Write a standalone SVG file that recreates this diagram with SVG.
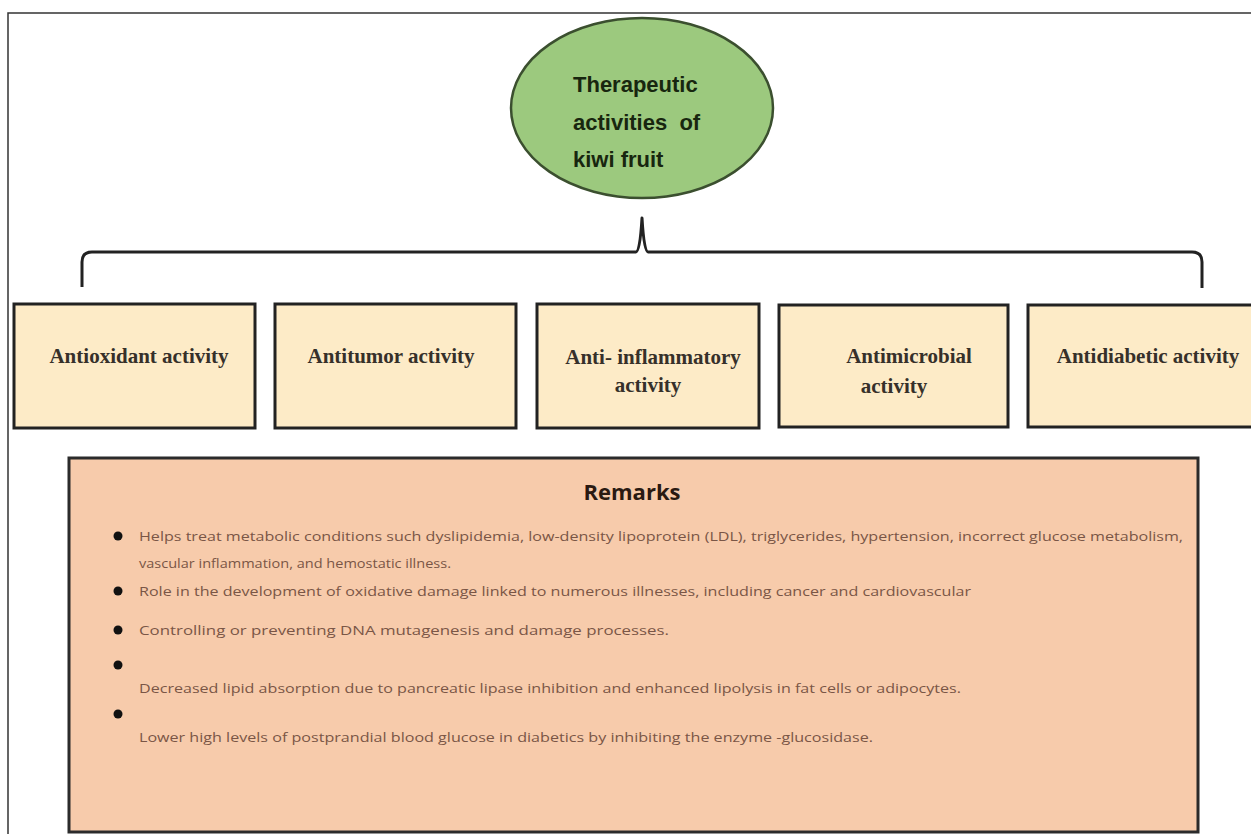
<svg xmlns="http://www.w3.org/2000/svg" width="1251" height="834" viewBox="0 0 1251 834">
<style>
.frame{fill:none;stroke:#333;stroke-width:1.5}
.ell{fill:#9cc97e;stroke:#3b4f2f;stroke-width:2.5}
.etxt{font-family:"Liberation Sans",Arial,sans-serif;font-weight:bold;font-size:22px;fill:#18260f}
.box{fill:#fdebc7;stroke:#222;stroke-width:3}
.btxt{font-family:"Liberation Serif","Times New Roman",serif;font-weight:bold;font-size:21px;fill:#36302a;text-anchor:middle}
.rem{fill:#f7cbab;stroke:#2b2b2b;stroke-width:3}
.rtitle{font-family:"Open Sans","Liberation Sans",sans-serif;font-weight:bold;font-size:22px;fill:#2a1a12;text-anchor:middle}
.rtxt{font-family:"Open Sans","Liberation Sans",sans-serif;font-size:13px;fill:#7a5646}
.dot{fill:#111}
.conn{fill:none;stroke:#222;stroke-width:3;stroke-linejoin:round}
</style>
<rect width="1251" height="834" fill="#fff"/>
<path class="frame" d="M8 834 V13 H1251"/>
<g id="root">
<ellipse class="ell" cx="642" cy="108" rx="131" ry="90"/>
<text class="etxt" x="573" y="92">Therapeutic</text>
<text class="etxt" x="573" y="130" xml:space="preserve">activities  of</text>
<text class="etxt" x="573" y="167">kiwi fruit</text>
</g>
<g id="connectors">
<path class="conn" d="M82 287 V262 Q82 252 92 252 H636 Q640 252 642 218 Q644 252 648 252 H1192 Q1202 252 1202 262 V288"/>
</g>
<g id="n1">
<rect class="box" x="14" y="304" width="241" height="124"/>
<text class="btxt" x="139" y="363">Antioxidant activity</text>
</g>
<g id="n2">
<rect class="box" x="275" y="304" width="241" height="124"/>
<text class="btxt" x="391" y="363">Antitumor activity</text>
</g>
<g id="n3">
<rect class="box" x="537" y="304" width="222" height="124"/>
<text class="btxt" x="653" y="364">Anti- inflammatory</text>
<text class="btxt" x="648" y="392">activity</text>
</g>
<g id="n4">
<rect class="box" x="779" y="305" width="229" height="122"/>
<text class="btxt" x="909" y="363">Antimicrobial</text>
<text class="btxt" x="894" y="393">activity</text>
</g>
<g id="n5">
<rect class="box" x="1028" y="305" width="230" height="122"/>
<text class="btxt" x="1148" y="363">Antidiabetic activity</text>
</g>
<g id="remarks">
<rect class="rem" x="69" y="458" width="1129" height="374"/>
<text class="rtitle" x="632" y="500">Remarks</text>
<circle class="dot" cx="118" cy="536" r="4.5"/>
<text class="rtxt" x="139" y="541" textLength="1044" lengthAdjust="spacingAndGlyphs">Helps treat metabolic conditions such dyslipidemia, low-density lipoprotein (LDL), triglycerides, hypertension, incorrect glucose metabolism,</text>
<text class="rtxt" x="139" y="568" textLength="312" lengthAdjust="spacingAndGlyphs">vascular inflammation, and hemostatic illness.</text>
<circle class="dot" cx="118" cy="591" r="4.5"/>
<text class="rtxt" x="139" y="596" textLength="832" lengthAdjust="spacingAndGlyphs">Role in the development of oxidative damage linked to numerous illnesses, including cancer and cardiovascular</text>
<circle class="dot" cx="118" cy="630" r="4.5"/>
<text class="rtxt" x="139" y="635" textLength="530" lengthAdjust="spacingAndGlyphs">Controlling or preventing DNA mutagenesis and damage processes.</text>
<circle class="dot" cx="118" cy="665" r="4.5"/>
<text class="rtxt" x="139" y="693" textLength="822" lengthAdjust="spacingAndGlyphs">Decreased lipid absorption due to pancreatic lipase inhibition and enhanced lipolysis in fat cells or adipocytes.</text>
<circle class="dot" cx="118" cy="714" r="4.5"/>
<text class="rtxt" x="139" y="742" textLength="734" lengthAdjust="spacingAndGlyphs">Lower high levels of postprandial blood glucose in diabetics by inhibiting the enzyme -glucosidase.</text>
</g>
</svg>
